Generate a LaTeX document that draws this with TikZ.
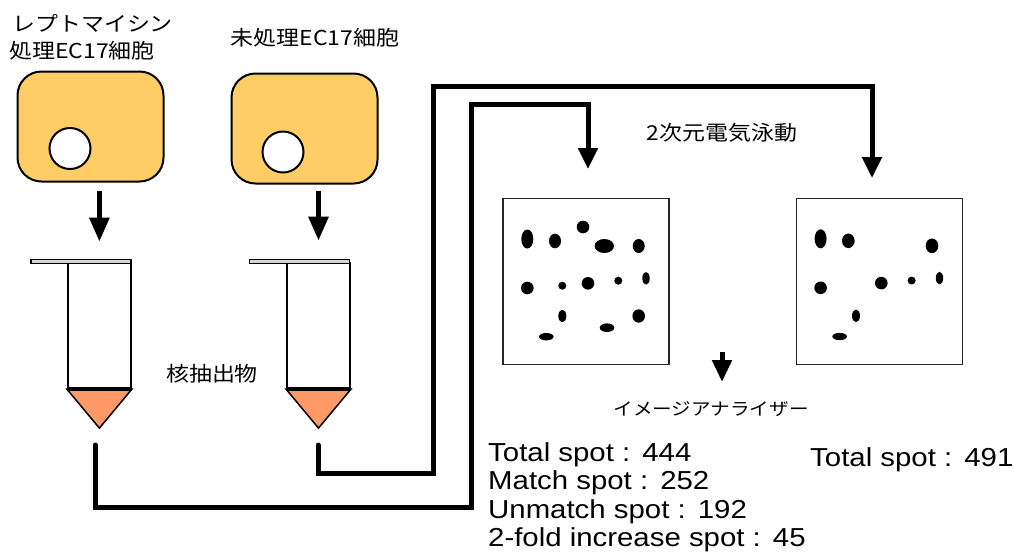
\documentclass[tikz,border=0pt]{standalone}
\usepackage{fontspec}
\setmainfont{Liberation Sans}
\newfontfamily\jpfont[FakeStretch=1.12]{Noto Sans CJK JP}
\newfontfamily\enfont[FakeStretch=1.13]{Liberation Sans}
\usetikzlibrary{arrows.meta,calc}

\definecolor{cellfill}{HTML}{FFCC66}
\definecolor{conefill}{HTML}{FF9966}
\definecolor{lidfill}{HTML}{D4D4D4}

\begin{document}
\begin{tikzpicture}[x=1pt,y=-1pt,
  cell/.style={draw=black,line width=2pt,fill=cellfill,rounded corners=24pt,
    minimum width=146pt,minimum height=110pt,inner sep=0pt},
  nucleus/.style={circle,draw=black,line width=2pt,fill=white,minimum size=41pt,inner sep=0pt},
  lid/.style={draw=black,line width=1.2pt,fill=lidfill,minimum width=100pt,minimum height=4pt,inner sep=0pt},
  tubebody/.style={draw=black,line width=2pt,fill=white,minimum width=63pt,minimum height=125pt,inner sep=0pt},
  cone/.style={draw=black,line width=1.5pt,fill=conefill,line join=miter},
  gel/.style={draw=black!85,line width=1.6pt,minimum width=166pt,minimum height=166pt,inner sep=0pt},
  dnarrow/.style={line width=5.5pt,-{Triangle[width=19pt,length=24pt]}},
  smallarrow/.style={line width=5pt,-{Triangle[width=19pt,length=22pt]}},
  conn/.style={line width=5pt,line cap=round,line join=miter},
  connarrow/.style={conn,-{Triangle[width=19pt,length=21pt]}},
  jp/.style={font=\jpfont\fontsize{20.5}{27}\selectfont,inner sep=0pt},
  jpsmall/.style={font=\jpfont\fontsize{17.5}{22}\selectfont,inner sep=0pt},
  stats/.style={font=\enfont\fontsize{26}{28.5}\selectfont,inner sep=0pt,align=left}
]
\useasboundingbox (0,0) rectangle (1014,558);

% labels above the cells
\node[jp,align=left,anchor=west] (lbl1) at (9,37.5) {\hspace{3pt}レプトマイシン\\処理EC17細胞};
\node[jp] (lbl2) at (315,37.5) {未処理EC17細胞};

% cells with nuclei
\node[cell] (cell1) at (90.5,126.5) {};
\node[cell] (cell2) at (304.5,128.5) {};
\node[nucleus] (nuc1) at (70,148.5) {};
\node[nucleus] (nuc2) at (283,152) {};

% tubes
\node[tubebody] (body1) at (99.4,325.6) {};
\node[tubebody] (body2) at (318.5,325.6) {};
\node[lid] (lid1) at (81,261.3) {};
\node[lid] (lid2) at (299.5,261.3) {};
\coordinate (tip1) at ($(body1.south)+(0,39)$);
\coordinate (tip2) at ($(body2.south)+(0,39)$);
\filldraw[cone] (body1.south west) -- (body1.south east) -- (tip1) -- cycle;
\filldraw[cone] (body2.south west) -- (body2.south east) -- (tip2) -- cycle;
\draw[line width=3.5pt] (body1.south west) -- (body1.south east);
\draw[line width=3.5pt] (body2.south west) -- (body2.south east);

% cell -> tube arrows
\draw[dnarrow] ([yshift=-8pt]cell1.south -| body1.north) -- ([yshift=17pt]lid1.north -| body1.north);
\draw[dnarrow] ([yshift=-6pt]cell2.south -| body2.north) -- ([yshift=18pt]lid2.north -| body2.north);

\node[jp] (extract) at (212,374) {核抽出物};

% gels
\node[gel] (gel1) at (586,281.5) {};
\node[gel] (gel2) at (879.5,281.3) {};
\begin{scope}[shift={(gel1.center)}]
  \foreach \dx/\dy/\rx/\ry in {-58.7/-42.5/6/9.5, -31/-40.5/6/7.3, -3/-54.5/6.3/6.3,
      18.3/-35.5/9.7/7, 52.7/-35.5/6/7, -58.7/6.5/6.3/6.3, -23.7/4.2/4/4,
      2/1.8/6.3/6.3, 32.3/-0.8/4/4, 60/-3.2/3.7/6.3, -23.7/34.5/4/6.3,
      52.7/34.5/6.3/6.7, 21/46.2/7.3/4.3, -39.7/55.2/7.3/3.7}
    \fill (\dx,\dy) ellipse [x radius=\rx, y radius=\ry];
\end{scope}
\begin{scope}[shift={(gel2.center)}]
  \foreach \dx/\dy/\rx/\ry in {-58.9/-42.5/6/9.5, -31.2/-40.5/6.3/7.3, 52.5/-35.5/6.3/7.3,
      -58.9/6.5/6.3/6.3, 1.8/1.8/6.3/6.3, 32.1/-0.8/4/4, 60/-3.2/3.7/6.3,
      -23.5/34.5/4/6.3, -39.9/55.2/7.3/3.7}
    \fill (\dx,\dy) ellipse [x radius=\rx, y radius=\ry];
\end{scope}

% connectors from the tubes to the gels
\coordinate (start1) at (95,445);
\coordinate (start2) at (318,445);
\coordinate (end1) at (588,169);
\coordinate (end2) at (872,178);
\draw[connarrow] (start1) -- (95,507) -- (471,507) -- (471,104) -- (588,104) -- (end1);
\draw[connarrow] (start2) -- (318,473) -- (433,473) -- (433,86) -- (872,86) -- (end2);

\node[jp] (ep) at (722,133) {2次元電気泳動};

% image analysis
\coordinate (ia1) at (722,352);
\coordinate (ia2) at (722,382);
\draw[smallarrow] (ia1) -- (ia2);
\node[jpsmall] (analyzer) at (711,409) {イメージアナライザー};

\node[stats,anchor=north west] (res1) at (488,442) {Total spot :\kern0.15em\ 444\\Match spot :\kern0.15em\ 252\\Unmatch spot :\kern0.15em\ 192\\2-fold increase spot :\kern0.15em\ 45};
\node[stats,anchor=base west] (res2) at (810,466) {Total spot :\kern0.15em\ 491};
\end{tikzpicture}
\end{document}
